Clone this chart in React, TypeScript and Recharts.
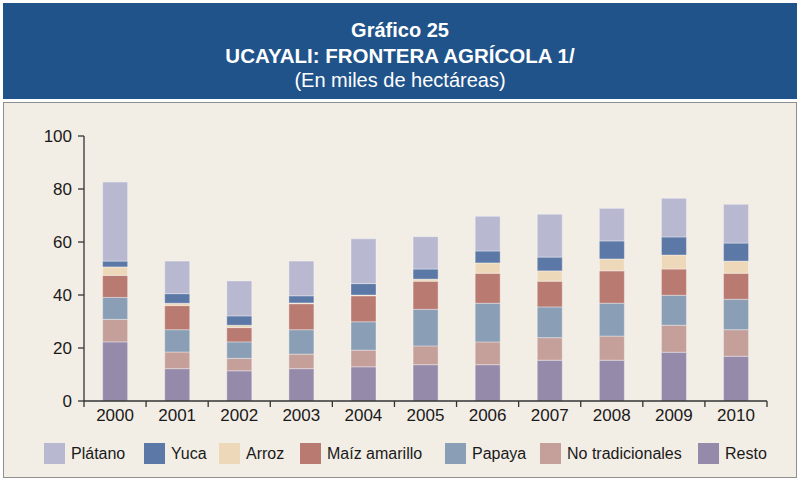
import React from "react";
import { BarChart, Bar, XAxis, YAxis } from "recharts";

const years = ["2000", "2001", "2002", "2003", "2004", "2005", "2006", "2007", "2008", "2009", "2010"];

const resto = [22.3, 12.2, 11.4, 12.2, 12.9, 13.7, 13.7, 15.4, 15.4, 18.4, 16.9];
const noTradicionales = [8.5, 6.3, 4.7, 5.5, 6.3, 7.1, 8.6, 8.5, 9.1, 10.2, 10.0];
const papaya = [8.3, 8.4, 6.2, 9.2, 10.7, 13.8, 14.6, 11.6, 12.4, 11.3, 11.5];
const maizAmarillo = [8.3, 9.1, 5.4, 9.8, 9.8, 10.6, 11.3, 9.7, 12.2, 9.9, 9.8];
const arroz = [3.2, 0.9, 0.9, 0.3, 0.3, 0.8, 3.9, 3.9, 4.5, 5.3, 4.6];
const yuca = [2.2, 3.6, 3.5, 2.7, 4.3, 3.8, 4.5, 5.2, 6.8, 6.8, 6.8];
const platano = [29.8, 12.3, 13.2, 13.1, 16.9, 12.2, 13.1, 16.2, 12.3, 14.6, 14.6];

const yTicks = [0, 20, 40, 60, 80, 100];

// stacked bottom -> top
const series = [
  { key: "resto", name: "Resto", values: resto, color: "#968aab" },
  { key: "noTrad", name: "No tradicionales", values: noTradicionales, color: "#c5a09b" },
  { key: "papaya", name: "Papaya", values: papaya, color: "#8a9fb6" },
  { key: "maiz", name: "Maíz amarillo", values: maizAmarillo, color: "#b97a72" },
  { key: "arroz", name: "Arroz", values: arroz, color: "#eed8ba" },
  { key: "yuca", name: "Yuca", values: yuca, color: "#5b78a6" },
  { key: "platano", name: "Plátano", values: platano, color: "#b8b8d1" },
];

// legend slot widths (Plátano ... Resto), irregular like the original
const legendSlots = [100, 75, 81, 145, 95, 158, 90];

const data = years.map((year, i) => {
  const row: Record<string, string | number> = { year };
  series.forEach((s) => {
    row[s.key] = s.values[i];
  });
  return row;
});

const W = 798;
const H = 479;
const LEFT = 84;
const RIGHT = 31;
const FONT = '"Liberation Sans", Arial, Helvetica, sans-serif';
const band = (W - LEFT - RIGHT) / years.length;

function YearTick(props: any) {
  const { x, y, payload, index } = props;
  const half = band / 2;
  const last = index === years.length - 1;
  return (
    <g>
      <line x1={x - half} x2={x - half} y1={y - 8} y2={y - 2} stroke="#333" strokeWidth={1.3} />
      {last && (
        <line x1={x + half} x2={x + half} y1={y - 8} y2={y - 2} stroke="#333" strokeWidth={1.3} />
      )}
      <text x={x} y={y} dy="0.71em" textAnchor="middle" fill="#1a1a1a" fontSize={17} fontFamily={FONT}>
        {payload.value}
      </text>
    </g>
  );
}

export default function App() {
  const legendItems = [...series].reverse();
  return (
    <div
      style={{
        position: "absolute",
        left: 0,
        top: 0,
        width: W,
        height: H,
        background: "#ffffff",
        fontFamily: FONT,
        overflow: "hidden",
      }}
    >
      <div
        style={{
          position: "absolute",
          left: 3,
          top: 3,
          width: 794,
          height: 96,
          background: "#20538a",
          color: "#ffffff",
          textAlign: "center",
        }}
      >
        <div style={{ position: "absolute", top: 16, width: "100%", fontSize: 20, fontWeight: "bold" }}>
          Gráfico 25
        </div>
        <div style={{ position: "absolute", top: 41, width: "100%", fontSize: 20.5, fontWeight: "bold" }}>
          UCAYALI: FRONTERA AGRÍCOLA 1/
        </div>
        <div style={{ position: "absolute", top: 66, width: "100%", fontSize: 20 }}>
          (En miles de hectáreas)
        </div>
      </div>

      <div
        style={{
          position: "absolute",
          left: 3,
          top: 102,
          width: 792,
          height: 374,
          background: "#f2ede5",
          border: "1px solid #8f8f8f",
        }}
      />

      <div style={{ position: "absolute", left: 0, top: 0 }}>
        <BarChart
          width={W}
          height={H}
          data={data}
          margin={{ top: 136, right: RIGHT, left: 0, bottom: 48 }}
          barCategoryGap="30%"
        >
          <XAxis
            dataKey="year"
            height={30}
            tickLine={false}
            tickSize={6}
            tickMargin={2}
            axisLine={{ stroke: "#333", strokeWidth: 1.3 }}
            tick={<YearTick />}
            interval={0}
          />
          <YAxis
            width={LEFT}
            domain={[0, 100]}
            ticks={yTicks}
            tickSize={6}
            tickMargin={6}
            axisLine={{ stroke: "#333", strokeWidth: 1.3 }}
            tickLine={{ stroke: "#333", strokeWidth: 1.3 }}
            tick={{ fill: "#1a1a1a", fontSize: 17, fontFamily: FONT }}
          />
          {series.map((s) => (
            <Bar
              key={s.key}
              dataKey={s.key}
              name={s.name}
              stackId="a"
              fill={s.color}
              stroke="#ffffff"
              strokeOpacity={0.35}
              strokeWidth={1}
              isAnimationActive={false}
            />
          ))}
        </BarChart>
      </div>

      <div
        style={{
          position: "absolute",
          left: 44,
          top: 443,
          width: 754,
          height: 21,
          display: "flex",
          alignItems: "center",
          fontSize: 16,
          color: "#1a1a1a",
          whiteSpace: "nowrap",
        }}
      >
        {legendItems.map((s, i) => (
          <div
            key={s.key}
            style={{ display: "flex", alignItems: "center", width: legendSlots[i], flexShrink: 0 }}
          >
            <span
              style={{ width: 21, height: 21, background: s.color, marginRight: 6, display: "inline-block", flexShrink: 0 }}
            />
            <span>{s.name}</span>
          </div>
        ))}
      </div>
    </div>
  );
}
